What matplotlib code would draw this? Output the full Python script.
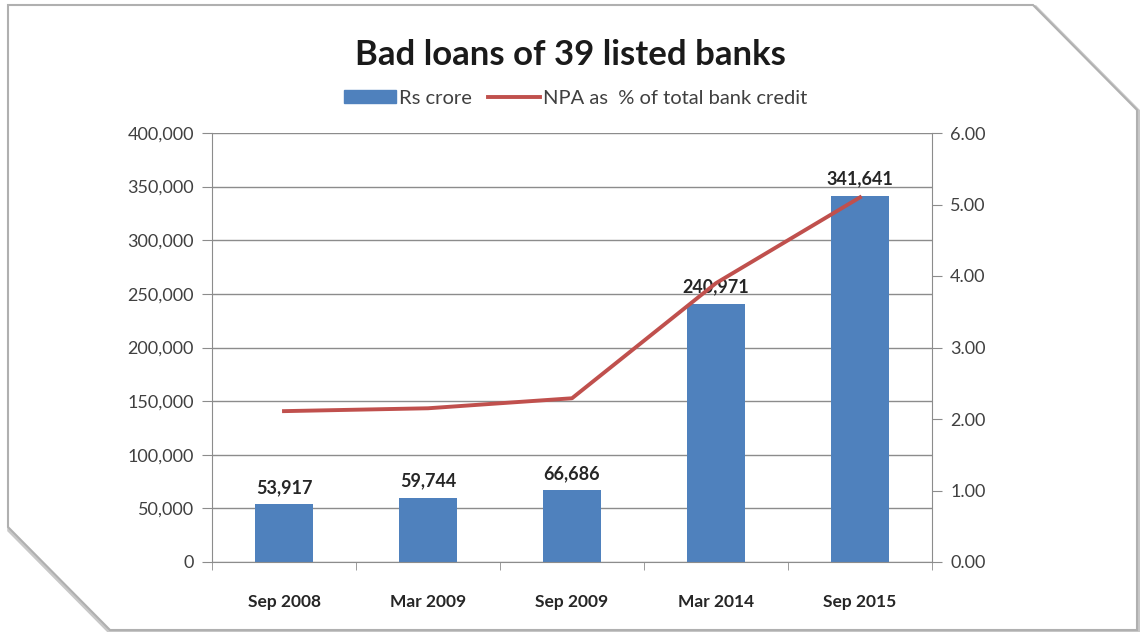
import matplotlib.pyplot as plt
from matplotlib.patches import Polygon
from matplotlib.lines import Line2D
from matplotlib.ticker import FuncFormatter, MultipleLocator

plt.rcParams['font.family'] = ['Lato', 'DejaVu Sans']

periods = ["Sep 2008", "Mar 2009", "Sep 2009", "Mar 2014", "Sep 2015"]
rs_crore = [53917, 59744, 66686, 240971, 341641]
npa_pct = [2.11, 2.15, 2.29, 3.90, 5.10]

W, H = 1140, 632
fig = plt.figure(figsize=(W / 100, H / 100), dpi=100)

# frame with cut corners, plus a soft shadow
frame = [(8, 5), (1033, 5), (1137, 110), (1137, 630), (110, 630), (8, 527)]
frame_f = [(x / W, 1 - y / H) for x, y in frame]
shadow = Polygon([(x + 2 / W, y - 3 / H) for x, y in frame_f], closed=True,
                 transform=fig.transFigure, fc='none', ec='#c8c8c8', lw=4, zorder=0)
fig.patches.append(shadow)
fig.patches.append(Polygon(frame_f, closed=True, transform=fig.transFigure,
                           fc='white', ec='#b0b0b0', lw=1.5, zorder=1))

ax = fig.add_axes([212 / W, 1 - 562 / H, 720 / W, 429 / H])
ax.set_zorder(2)
ax.patch.set_alpha(0)
x = range(len(periods))
bars = ax.bar(x, rs_crore, width=0.4, color='#4F81BD', zorder=2)
ax.set_xlim(-0.5, len(periods) - 0.5)
ax.set_ylim(0, 400000)
ax.yaxis.set_major_locator(MultipleLocator(50000))
ax.yaxis.set_major_formatter(FuncFormatter(lambda v, p: f"{int(v):,}"))
ax.grid(axis='y', color='#8c8c8c', lw=1, zorder=0)
ax.set_xticks(x)
ax.set_xticklabels(periods, fontweight='bold', fontsize=12.5, color='#262626')
ax.set_xticks([i + 0.5 for i in range(-1, len(periods))], minor=True)
ax.tick_params(axis='x', which='major', length=0, pad=23)
ax.tick_params(axis='x', which='minor', length=6, color='#8c8c8c', direction='out')
ax.tick_params(axis='y', length=7, color='#8c8c8c', labelsize=13, labelcolor='#404040', pad=6)
for s in ['top', 'right']:
    ax.spines[s].set_visible(False)
for s in ['left', 'bottom']:
    ax.spines[s].set_color('#8c8c8c')

for b, v in zip(bars, rs_crore):
    ax.annotate(f"{v:,}", (b.get_x() + b.get_width() / 2, v), xytext=(0, 6),
                textcoords='offset points', ha='center', va='bottom',
                fontsize=13, fontweight='bold', color='#262626', zorder=5)

ax2 = ax.twinx()
ax2.plot(list(x), npa_pct, color='#C0504D', lw=2.8, zorder=3)
ax2.set_ylim(0, 6)
ax2.yaxis.set_major_locator(MultipleLocator(1))
ax2.yaxis.set_major_formatter(FuncFormatter(lambda v, p: f"{v:.2f}"))
ax2.tick_params(axis='y', length=7, color='#8c8c8c', labelsize=13, labelcolor='#404040', pad=6)
for s in ['top', 'left', 'bottom']:
    ax2.spines[s].set_visible(False)
ax2.spines['right'].set_color('#8c8c8c')

fig.text(0.5, 1 - 55 / H, "Bad loans of 39 listed banks", ha='center', va='center',
         fontsize=25, fontweight='bold', color='#1a1a1a')

handles = [plt.Rectangle((0, 0), 1, 1, color='#4F81BD'),
           Line2D([0], [0], color='#C0504D', lw=2.8)]
fig.legend(handles, ["Rs crore", "NPA as  % of total bank credit"], loc='center',
           bbox_to_anchor=(0.505, 1 - 98 / H), ncol=2, frameon=False, fontsize=14.5,
           handlelength=2.6, handleheight=0.6, handletextpad=0.15, columnspacing=0.8,
           labelcolor='#404040')

fig.savefig("out.png", dpi=100)
